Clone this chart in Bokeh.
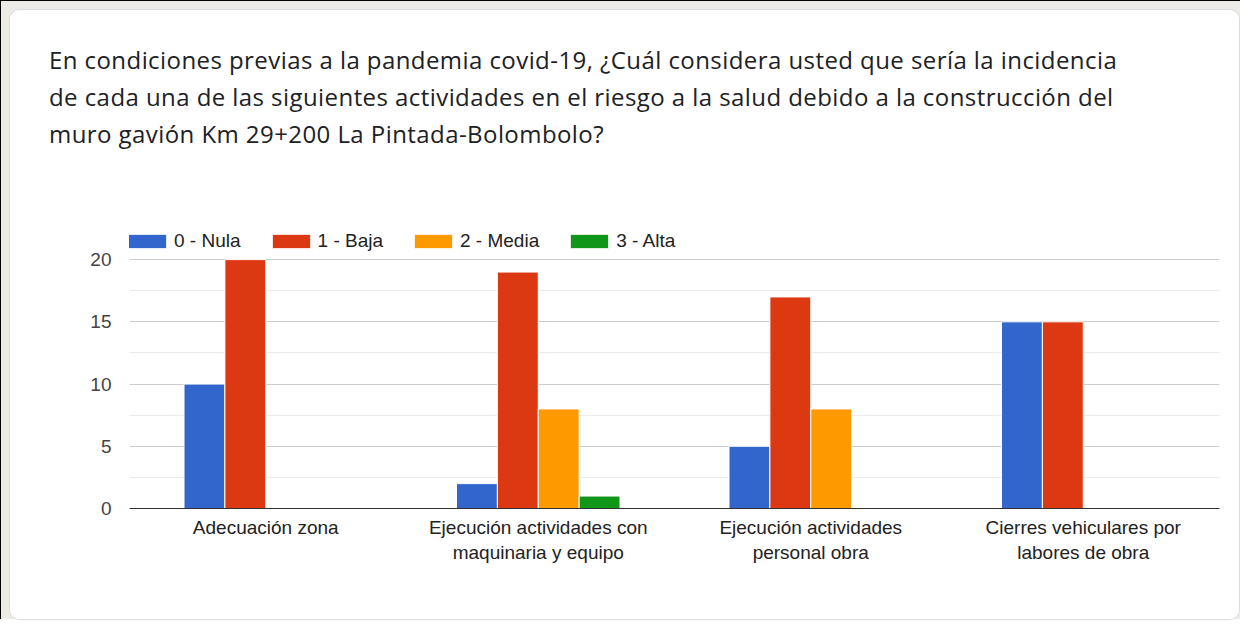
from bokeh.plotting import figure
from bokeh.models import (ColumnDataSource, FactorRange, Range1d, FixedTicker,
                          Legend, LegendItem, Div, Column)
from bokeh.transform import dodge
from bokeh.embed import file_html
from bokeh.resources import INLINE

title_lines = [
    "En condiciones previas a la pandemia covid-19, ¿Cuál considera usted que sería la incidencia",
    "de cada una de las siguientes actividades en el riesgo a la salud debido a la construcción del",
    "muro gavión Km 29+200 La Pintada-Bolombolo?",
]
categories = [
    "Adecuación zona",
    "Ejecución actividades con\nmaquinaria y equipo",
    "Ejecución actividades\npersonal obra",
    "Cierres vehiculares por\nlabores de obra",
]
series = ["0 - Nula", "1 - Baja", "2 - Media", "3 - Alta"]
nula = [10, 2, 5, 15]
baja = [20, 19, 17, 15]
media = [0, 8, 8, 0]
alta = [0, 1, 0, 0]
colors = ["#3366cc", "#dc3912", "#ff9900", "#109618"]
y_ticks = [0, 5, 10, 15, 20]
y_minor = [2.5, 7.5, 12.5, 17.5, 22.5]

source = ColumnDataSource(data=dict(cat=categories, nula=nula, baja=baja,
                                    media=media, alta=alta))

CARD_W, CARD_H = 1229, 609
DIV_H = 160
FIG_H = CARD_H - DIV_H

title_html = (
    '<div style="font-family: \'Open Sans\', sans-serif; font-size: 24px; line-height: 37px;'
    ' letter-spacing: 0.43px; color: #202124; padding: 31px 0 0 39px; white-space: nowrap;">'
    + "<br>".join(title_lines) + "</div>"
)
div = Div(text=title_html, width=CARD_W, height=DIV_H, margin=0)

p = figure(width=CARD_W, height=FIG_H, x_range=FactorRange(*categories),
           y_range=Range1d(0, 22.5), output_backend="svg", toolbar_location=None,
           min_border_left=119, min_border_right=20, min_border_top=58,
           min_border_bottom=111, margin=0)
p.border_fill_color = "white"
p.background_fill_color = "white"
p.outline_line_color = None

keys = ["nula", "baja", "media", "alta"]
offsets = [-0.225, -0.075, 0.075, 0.225]
renderers = []
for k, off, c in zip(keys, offsets, colors):
    r = p.vbar(x=dodge("cat", off, range=p.x_range), top=k, width=0.15,
               source=source, fill_color=c, line_color="white", line_width=1)
    renderers.append(r)

legend = Legend(items=[LegendItem(label=s, renderers=[r]) for s, r in zip(series, renderers)],
                orientation="horizontal", location=(-6, 256),
                glyph_width=48, glyph_height=18, label_standoff=3, spacing=26,
                padding=0, margin=0, border_line_color=None,
                background_fill_alpha=0,
                label_text_font="Liberation Sans", label_text_font_size="19px",
                label_text_color="#222222", label_height=14)
p.add_layout(legend)

p.xgrid.grid_line_color = None
p.ygrid.ticker = FixedTicker(ticks=y_ticks, minor_ticks=y_minor)
p.ygrid.grid_line_color = "#cccccc"
p.ygrid.minor_grid_line_color = "#ebebeb"

p.yaxis.ticker = FixedTicker(ticks=y_ticks)
p.yaxis.axis_line_color = None
p.yaxis.major_tick_line_color = None
p.yaxis.minor_tick_line_color = None
p.yaxis.major_label_standoff = 12
p.yaxis.major_label_text_font = "Liberation Sans"
p.yaxis.major_label_text_font_size = "19px"
p.yaxis.major_label_text_color = "#444444"

p.xaxis.axis_line_color = "#333333"
p.xaxis.major_tick_line_color = None
p.xaxis.minor_tick_line_color = None
p.xaxis.major_label_standoff = 2
p.xaxis.major_label_text_font = "Liberation Sans"
p.xaxis.major_label_text_font_size = "19px"
p.xaxis.major_label_text_color = "#222222"
p.xaxis.major_label_text_line_height = 1.2

card = Column(children=[div, p], spacing=0, margin=(10, 1, 0, 10),
              styles={"background-color": "white", "border-radius": "9px",
                      "overflow": "hidden",
                      "box-shadow": "0 0 0 1px #dcdcdc"})
page = Column(children=[card], spacing=0, margin=0,
              styles={"background-color": "#ecebe6",
                      "box-shadow": "inset 1px 1px 0 0 #000000"})

open("out.html", "w").write(file_html(page, INLINE))
